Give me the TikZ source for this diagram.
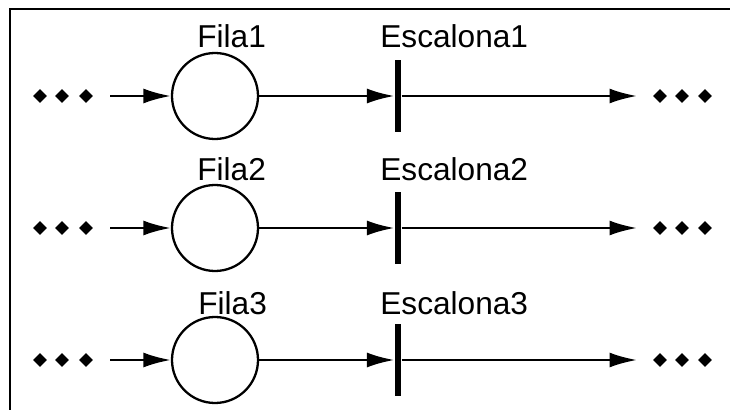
\documentclass[tikz,border=0pt]{standalone}
\usepackage{fontspec}
\setmainfont{Liberation Sans}
\usetikzlibrary{arrows.meta,shapes.geometric}

\begin{document}
\begin{tikzpicture}[
    fila/.style={draw, circle, line width=1.3pt, minimum size=1.72cm, inner sep=0pt},
    barra/.style={fill=black, minimum width=0.13cm, minimum height=1.44cm, inner sep=0pt},
    ponto/.style={fill=black, diamond, minimum size=0.28cm, inner sep=0pt},
    seta/.style={line width=1.4pt, -{Latex[length=0.55cm,width=0.3cm]}},
    rotulo/.style={anchor=base west, inner sep=0pt, font=\fontsize{18}{21}\selectfont}
]
    \useasboundingbox (0,0) rectangle (14.6,-8.2);

    % Frame
    \draw[line width=1pt] (0.2,-8.2) -- (0.2,-0.18) -- (14.6,-0.18);

    % Queues (circles) and stations (bars)
    \node[fila] (F1) at (4.3,-1.92) {};
    \node[fila] (F2) at (4.3,-4.56) {};
    \node[fila] (F3) at (4.3,-7.2) {};
    \node[barra] (E1) at (7.96,-1.92) {};
    \node[barra] (E2) at (7.96,-4.56) {};
    \node[barra] (E3) at (7.96,-7.2) {};

    % Labels
    \node[rotulo] (LF1) at (3.94,-0.96) {Fila1};
    \node[rotulo] (LF2) at (3.94,-3.62) {Fila2};
    \node[rotulo] (LF3) at (3.96,-6.28) {Fila3};
    \node[rotulo] (LE1) at (7.6,-0.96) {Escalona1};
    \node[rotulo] (LE2) at (7.6,-3.62) {Escalona2};
    \node[rotulo] (LE3) at (7.6,-6.28) {Escalona3};

    % Dots on the left
    \node[ponto] (a1) at (0.8,-1.92) {};
    \node[ponto] (b1) at (1.24,-1.92) {};
    \node[ponto] (c1) at (1.72,-1.92) {};
    \node[ponto] (a2) at (0.8,-4.56) {};
    \node[ponto] (b2) at (1.24,-4.56) {};
    \node[ponto] (c2) at (1.72,-4.56) {};
    \node[ponto] (a3) at (0.8,-7.2) {};
    \node[ponto] (b3) at (1.24,-7.2) {};
    \node[ponto] (c3) at (1.72,-7.2) {};

    % Dots on the right
    \node[ponto] (x1) at (13.2,-1.92) {};
    \node[ponto] (y1) at (13.64,-1.92) {};
    \node[ponto] (z1) at (14.1,-1.92) {};
    \node[ponto] (x2) at (13.2,-4.56) {};
    \node[ponto] (y2) at (13.64,-4.56) {};
    \node[ponto] (z2) at (14.1,-4.56) {};
    \node[ponto] (x3) at (13.2,-7.2) {};
    \node[ponto] (y3) at (13.64,-7.2) {};
    \node[ponto] (z3) at (14.1,-7.2) {};

    % Line ends
    \coordinate (in1) at (2.2,-1.92);
    \coordinate (in2) at (2.2,-4.56);
    \coordinate (in3) at (2.2,-7.2);
    \coordinate (out1) at (12.74,-1.92);
    \coordinate (out2) at (12.74,-4.56);
    \coordinate (out3) at (12.74,-7.2);

    % Arrows
    \draw[seta] (in1) -- (F1);
    \draw[seta] (F1) -- (E1);
    \draw[seta] (E1) -- (out1);
    \draw[seta] (in2) -- (F2);
    \draw[seta] (F2) -- (E2);
    \draw[seta] (E2) -- (out2);
    \draw[seta] (in3) -- (F3);
    \draw[seta] (F3) -- (E3);
    \draw[seta] (E3) -- (out3);
\end{tikzpicture}
\end{document}
